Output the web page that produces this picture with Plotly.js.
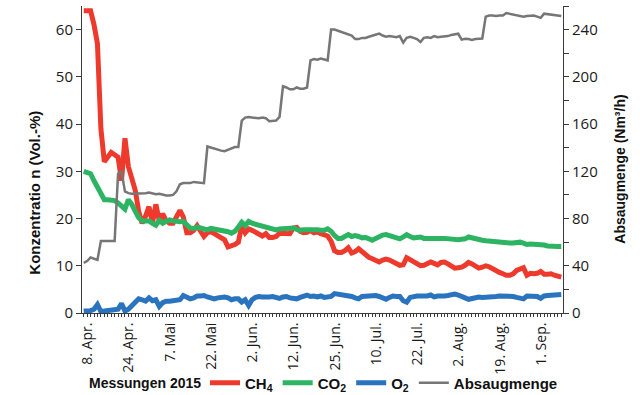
<!DOCTYPE html>
<html>
<head>
<meta charset="utf-8">
<script src="https://cdn.plot.ly/plotly-3.0.1.min.js"></script>
<style>html,body{margin:0;padding:0;background:#fff;}#chart{width:640px;height:395px;}</style>
</head>
<body>
<div id="chart"></div>
<script>
// Tick labels (one every 12 measurements, starting with the first)
const dateLabels = ["8. Apr.","24. Apr.","7. Mai","22. Mai","2. Jun.","12. Jun.","25. Jun.","10. Jul.","22. Jul.","2. Aug.","19. Aug.","1. Sep."];
const labelEvery = 12;

// Konzentration CH4 (Vol.-%)
const ch4 = [64,64,64,61,57,39,32,33,34,33.5,33,28,37,31,28,26,21.5,19,20.5,22.5,
19,23,19.5,21,19.5,19,19,20.5,21.7,20.3,17,17,17.5,18.5,17.2,16.2,17,17.2,16.8,16.4,
16.2,15.5,14,14.2,14.5,15,18.5,17,17.8,17.5,17,16.5,16.3,16.8,16,16,16.2,16.9,16.8,16.9,
16.8,18,18.1,17.3,17,17.1,17.5,17,17.2,16.8,16.5,16.3,15.2,13.2,12.8,12.8,13.2,13.8,12.7,13,
13.6,13,12.3,11.8,11.5,11.1,10.8,11.2,11.4,11.2,10.8,10.3,10.1,10.2,11.7,11.3,10.9,10.4,10,10.1,
10.6,10.8,10.5,10.2,10.7,10.8,10.4,10,9.5,9.6,9.7,10.1,10.7,10.4,10,9.5,9.7,10,9.8,9.3,
9,8.6,8.3,8,8,8.3,9,9.4,9.6,8,8.4,8.3,8.4,8.8,8.2,8.2,8.3,8,7.9,7.6];

// Konzentration CO2 (Vol.-%)
const co2 = [30,29.8,29.5,28,26.5,25,24,24,24,23.8,23.3,22.5,22,24,23,21.5,20.2,19.5,19.4,19.5,
19,18.6,19.6,19,19.4,19.7,19.5,19.3,19.3,19.4,18.6,18,17.9,18.2,18,17.8,17.6,17.9,17.8,17.6,
17.4,17.3,17.2,16.9,17.3,18.2,19.2,18.5,19.4,19,18.8,18.5,18.2,18,17.9,17.7,17.6,17.8,17.9,17.8,
17.9,18,17.7,17.5,17.6,17.6,17.8,17.8,17.6,17.5,17.5,17.8,17.3,16.4,15.8,15.8,16.2,16.6,16.2,16.4,
16.2,15.9,16,15.7,15.4,15.8,16.2,16.5,16.6,16.4,16.2,15.9,15.7,16.1,16.6,16.2,15.9,16,16.1,15.8,
15.7,15.8,15.8,15.7,15.8,15.8,15.7,15.6,15.5,15.5,15.6,15.7,16.1,15.9,15.6,15.5,15.4,15.3,15.2,15.1,
15,14.9,14.8,14.7,14.8,14.8,14.9,15,14.8,14.5,14.6,14.6,14.5,14.5,14.4,14.2,14.1,14.1,14.1,14.1];

// Konzentration O2 (Vol.-%)
const o2 = [0.4,0.4,0.5,0.8,1.8,0.3,0.4,0.4,0.5,0.6,0.8,2,0.4,0.8,1.5,2.3,3,2.8,2.5,3.2,
2.6,2.8,1.4,2.2,2.5,2.5,2.6,2.7,2.8,3.7,3.4,3,3.2,3.6,3.6,3.7,3.4,3.3,3,3.2,
3.3,3.4,3.2,2.8,3,3,2.3,2.8,1.6,2.8,3.3,3.5,3.4,3.3,3.4,3.5,3.3,3.1,3.4,3.5,
3.2,3,3,3.3,3.6,3.8,3.5,3.6,3.4,3.6,3.3,3.3,3.5,4.1,4,3.8,3.6,3.6,3.5,3.2,
3,3.5,3.6,3.6,3.7,3.7,3.5,3.3,2.9,3.3,3.6,3.5,3.5,2.6,2.3,3.3,3.5,3.6,3.6,3.5,
3.6,3.8,3.4,3.6,3.5,3.6,3.7,3.9,4,3.8,3.6,3.2,2.9,3.1,3.3,3.4,3.3,3.3,3.4,3.4,
3.5,3.6,3.6,3.6,3.6,3.5,3.3,3.2,3,3.6,3.5,3.4,3.5,3.1,3.6,3.7,3.8,3.9,4,3.9];

// Absaugmenge (Nm³/h)
const absaug = [42.5,44,47,46,45,61,61,61,61,61,118,120,103,101.5,101,101,101.5,101.5,101.5,102,
101.5,100.5,101,100,99.5,99.5,100,103,109,110,110,110,111,110.5,110,110,141,140,139,138,
137.5,137,138,139,140.5,140.5,163,165.5,166,165.5,165,165,165.5,165,162.5,162.5,163,166,192,191,
189.5,189.5,191,190,190,191,214,215,214.5,215.5,215,214,240,240,239,238,237.5,236,235,232,
232,233,233,234,235,235.5,236.6,235,234,234.5,234,233.5,234.5,229,233,234,233,232,229.5,233,
233.5,233,234.5,233.5,234,234.3,234.5,235.5,236,236.5,231.5,232.3,232,231.3,232,232.3,232.5,251,252,252,
251.5,252,252,254,253.5,253,252.5,251.5,251,251.5,252,252,251,250,253.5,253,253,252.5,252,251.5];

const leftTicks = [0,10,20,30,40,50,60];
const rightTicks = [0,40,80,120,160,200,240];

const idx = ch4.map((_, i) => i);
const labelPos = dateLabels.map((_, k) => k * labelEvery);

const FONT = "'Liberation Sans', Arial, sans-serif";
const NUMFONT = "'Open Sans', 'Liberation Sans', sans-serif";
const AXC = "#3a3a3a";
const TXT = "#111";

const traces = [
  {x: idx, y: ch4, name: "CH<sub>4</sub>", type: "scatter", mode: "lines",
   line: {color: "#EE3A2C", width: 5}},
  {x: idx, y: co2, name: "CO<sub>2</sub>", type: "scatter", mode: "lines",
   line: {color: "#2DB463", width: 5}},
  {x: idx, y: o2, name: "O<sub>2</sub>", type: "scatter", mode: "lines",
   line: {color: "#2A74BF", width: 5}},
  {x: idx, y: absaug, name: "Absaugmenge", type: "scatter", mode: "lines", yaxis: "y2",
   line: {color: "#767676", width: 2.5}}
];

const layout = {
  width: 640, height: 395,
  margin: {l: 82, r: 77, t: 6, b: 82, autoexpand: false},
  paper_bgcolor: "#fff", plot_bgcolor: "#fff",
  showlegend: true,
  font: {family: NUMFONT, color: "#1a1a1a"},
  xaxis: {
    range: [-0.5, idx.length - 0.5], automargin: false,
    tickmode: "array", tickvals: labelPos, ticktext: dateLabels,
    tickangle: -90, ticks: "outside", ticklen: 3, tickwidth: 1, tickcolor: AXC,
    minor: {tickmode: "linear", tick0: 0, dtick: 1, ticks: "outside", ticklen: 3, tickwidth: 1, tickcolor: AXC, showgrid: false},
    tickfont: {size: 14, family: NUMFONT, color: "#1a1a1a"},
    ticklabelshift: 4,
    showline: true, linecolor: AXC, linewidth: 1, showgrid: false, zeroline: false
  },
  yaxis: {
    range: [0, 65], automargin: false, tickmode: "array", tickvals: leftTicks,
    ticks: "outside", ticklen: 5, tickcolor: AXC,
    tickfont: {size: 15, family: NUMFONT, color: "#1a1a1a"},
    showline: true, linecolor: AXC, linewidth: 1, showgrid: false, zeroline: false
  },
  yaxis2: {
    overlaying: "y", side: "right", automargin: false,
    range: [0, 260], tickmode: "array", tickvals: rightTicks,
    ticks: "outside", ticklen: 5, tickcolor: AXC,
    minor: {tickmode: "linear", tick0: 0, dtick: 20, ticks: "outside", ticklen: 5, tickcolor: AXC, showgrid: false},
    tickfont: {size: 15, family: NUMFONT, color: "#1a1a1a"},
    showline: true, linecolor: AXC, linewidth: 1, showgrid: false, zeroline: false
  },
  legend: {
    orientation: "h", x: 1.0, xanchor: "right", y: -0.228, yanchor: "middle",
    font: {size: 15, family: FONT, weight: "bold", color: TXT},
    itemwidth: 30, bgcolor: "rgba(0,0,0,0)", traceorder: "normal"
  },
  annotations: [
    {text: "Messungen 2015", xref: "paper", yref: "paper",
     x: 0.0, y: -0.228, xanchor: "left", yanchor: "middle", showarrow: false, xshift: 5,
     font: {size: 14, family: FONT, weight: "bold", color: TXT}},
    {text: "Konzentratio n (Vol.-%)", xref: "paper", yref: "paper",
     x: -0.0977, y: 0.392, xanchor: "center", yanchor: "middle", textangle: -90, showarrow: false,
     font: {size: 15, family: FONT, weight: "bold", color: TXT}},
    {text: "Absaugmenge (Nm³/h)", xref: "paper", yref: "paper",
     x: 1.1185, y: 0.47, xanchor: "center", yanchor: "middle", textangle: -90, showarrow: false,
     font: {size: 14, family: FONT, weight: "bold", color: TXT}}
  ]
};

Plotly.newPlot("chart", traces, layout, {displayModeBar: false, staticPlot: true});
</script>
</body>
</html>
